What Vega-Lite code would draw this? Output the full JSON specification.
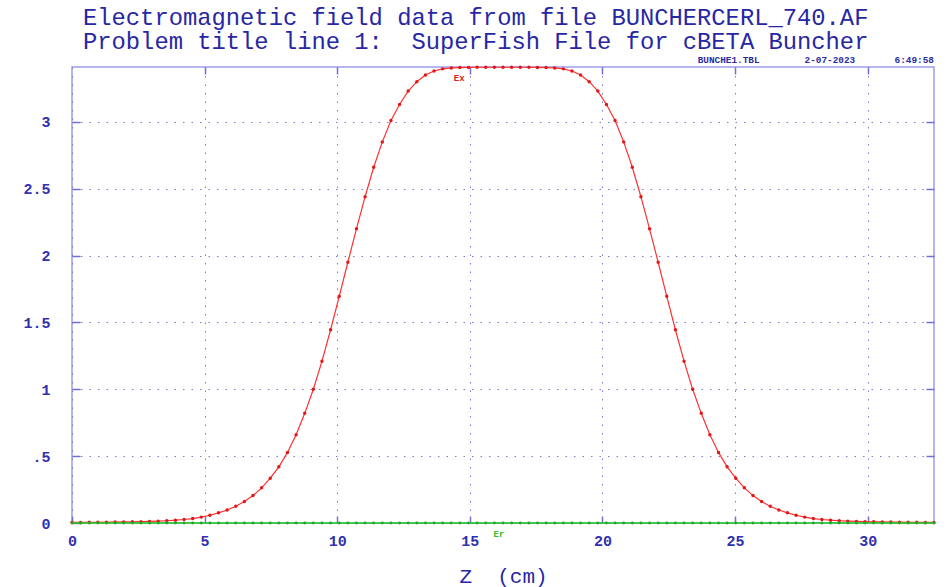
{
  "$schema": "https://vega.github.io/schema/vega-lite/v6.json",
  "width": 862,
  "height": 456,
  "autosize": {"type": "none"},
  "padding": {"left": 72, "top": 67, "right": 13, "bottom": 64},
  "background": "white",
  "title": {
    "text": [
      "Electromagnetic field data from file BUNCHERCERL_740.AF",
      "Problem title line 1: \u00a0SuperFish File for cBETA Buncher"
    ],
    "anchor": "start",
    "frame": "group",
    "dx": 11,
    "font": "Liberation Mono",
    "fontSize": 23.8,
    "fontWeight": "normal",
    "color": "#2727a5",
    "lineHeight": 24,
    "offset": 1
  },
  "config": {
    "view": {"stroke": "#9d9dec", "strokeWidth": 1.5},
    "axis": {
      "domain": false,
      "grid": true,
      "gridColor": "#7b7bd2",
      "gridDash": [1.5, 7],
      "gridWidth": 1,
      "tickColor": "#7070d0",
      "tickWidth": 1.5,
      "labelFont": "Liberation Mono",
      "labelFontWeight": "bold",
      "labelFontSize": 15,
      "labelColor": "#3030b0",
      "titleFont": "Liberation Mono",
      "titleFontWeight": "normal",
      "titleColor": "#2727a5"
    }
  },
  "data": {
    "values": [
      {"z": 0, "Ex": 0.004, "Er": 0},
      {"z": 0.325, "Ex": 0.004, "Er": 0},
      {"z": 0.65, "Ex": 0.005, "Er": 0},
      {"z": 0.975, "Ex": 0.005, "Er": 0},
      {"z": 1.3, "Ex": 0.006, "Er": 0},
      {"z": 1.625, "Ex": 0.007, "Er": 0},
      {"z": 1.95, "Ex": 0.008, "Er": 0},
      {"z": 2.275, "Ex": 0.009, "Er": 0},
      {"z": 2.6, "Ex": 0.010, "Er": 0},
      {"z": 2.925, "Ex": 0.012, "Er": 0},
      {"z": 3.25, "Ex": 0.014, "Er": 0},
      {"z": 3.575, "Ex": 0.017, "Er": 0},
      {"z": 3.9, "Ex": 0.021, "Er": 0},
      {"z": 4.225, "Ex": 0.026, "Er": 0},
      {"z": 4.55, "Ex": 0.033, "Er": 0},
      {"z": 4.875, "Ex": 0.044, "Er": 0},
      {"z": 5.2, "Ex": 0.058, "Er": 0},
      {"z": 5.525, "Ex": 0.076, "Er": 0},
      {"z": 5.85, "Ex": 0.097, "Er": 0},
      {"z": 6.175, "Ex": 0.125, "Er": 0},
      {"z": 6.5, "Ex": 0.160, "Er": 0},
      {"z": 6.825, "Ex": 0.205, "Er": 0},
      {"z": 7.15, "Ex": 0.263, "Er": 0},
      {"z": 7.475, "Ex": 0.335, "Er": 0},
      {"z": 7.8, "Ex": 0.420, "Er": 0},
      {"z": 8.125, "Ex": 0.528, "Er": 0},
      {"z": 8.45, "Ex": 0.660, "Er": 0},
      {"z": 8.775, "Ex": 0.820, "Er": 0},
      {"z": 9.1, "Ex": 1.000, "Er": 0},
      {"z": 9.425, "Ex": 1.210, "Er": 0},
      {"z": 9.75, "Ex": 1.445, "Er": 0},
      {"z": 10.075, "Ex": 1.695, "Er": 0},
      {"z": 10.4, "Ex": 1.950, "Er": 0},
      {"z": 10.725, "Ex": 2.200, "Er": 0},
      {"z": 11.05, "Ex": 2.440, "Er": 0},
      {"z": 11.375, "Ex": 2.660, "Er": 0},
      {"z": 11.7, "Ex": 2.850, "Er": 0},
      {"z": 12.025, "Ex": 3.010, "Er": 0},
      {"z": 12.35, "Ex": 3.130, "Er": 0},
      {"z": 12.675, "Ex": 3.230, "Er": 0},
      {"z": 13, "Ex": 3.300, "Er": 0},
      {"z": 13.325, "Ex": 3.350, "Er": 0},
      {"z": 13.65, "Ex": 3.380, "Er": 0},
      {"z": 13.975, "Ex": 3.396, "Er": 0},
      {"z": 14.3, "Ex": 3.403, "Er": 0},
      {"z": 14.625, "Ex": 3.406, "Er": 0},
      {"z": 14.95, "Ex": 3.407, "Er": 0},
      {"z": 15.275, "Ex": 3.408, "Er": 0},
      {"z": 15.6, "Ex": 3.408, "Er": 0},
      {"z": 15.925, "Ex": 3.408, "Er": 0},
      {"z": 16.25, "Ex": 3.408, "Er": 0},
      {"z": 16.575, "Ex": 3.408, "Er": 0},
      {"z": 16.9, "Ex": 3.408, "Er": 0},
      {"z": 17.225, "Ex": 3.408, "Er": 0},
      {"z": 17.55, "Ex": 3.407, "Er": 0},
      {"z": 17.875, "Ex": 3.406, "Er": 0},
      {"z": 18.2, "Ex": 3.403, "Er": 0},
      {"z": 18.525, "Ex": 3.396, "Er": 0},
      {"z": 18.85, "Ex": 3.380, "Er": 0},
      {"z": 19.175, "Ex": 3.350, "Er": 0},
      {"z": 19.5, "Ex": 3.300, "Er": 0},
      {"z": 19.825, "Ex": 3.230, "Er": 0},
      {"z": 20.15, "Ex": 3.130, "Er": 0},
      {"z": 20.475, "Ex": 3.010, "Er": 0},
      {"z": 20.8, "Ex": 2.850, "Er": 0},
      {"z": 21.125, "Ex": 2.660, "Er": 0},
      {"z": 21.45, "Ex": 2.440, "Er": 0},
      {"z": 21.775, "Ex": 2.200, "Er": 0},
      {"z": 22.1, "Ex": 1.950, "Er": 0},
      {"z": 22.425, "Ex": 1.695, "Er": 0},
      {"z": 22.75, "Ex": 1.445, "Er": 0},
      {"z": 23.075, "Ex": 1.210, "Er": 0},
      {"z": 23.4, "Ex": 1.000, "Er": 0},
      {"z": 23.725, "Ex": 0.820, "Er": 0},
      {"z": 24.05, "Ex": 0.660, "Er": 0},
      {"z": 24.375, "Ex": 0.528, "Er": 0},
      {"z": 24.7, "Ex": 0.420, "Er": 0},
      {"z": 25.025, "Ex": 0.335, "Er": 0},
      {"z": 25.35, "Ex": 0.263, "Er": 0},
      {"z": 25.675, "Ex": 0.205, "Er": 0},
      {"z": 26, "Ex": 0.160, "Er": 0},
      {"z": 26.325, "Ex": 0.125, "Er": 0},
      {"z": 26.65, "Ex": 0.097, "Er": 0},
      {"z": 26.975, "Ex": 0.076, "Er": 0},
      {"z": 27.3, "Ex": 0.058, "Er": 0},
      {"z": 27.625, "Ex": 0.044, "Er": 0},
      {"z": 27.95, "Ex": 0.033, "Er": 0},
      {"z": 28.275, "Ex": 0.026, "Er": 0},
      {"z": 28.6, "Ex": 0.021, "Er": 0},
      {"z": 28.925, "Ex": 0.017, "Er": 0},
      {"z": 29.25, "Ex": 0.014, "Er": 0},
      {"z": 29.575, "Ex": 0.012, "Er": 0},
      {"z": 29.9, "Ex": 0.010, "Er": 0},
      {"z": 30.225, "Ex": 0.009, "Er": 0},
      {"z": 30.55, "Ex": 0.008, "Er": 0},
      {"z": 30.875, "Ex": 0.007, "Er": 0},
      {"z": 31.2, "Ex": 0.006, "Er": 0},
      {"z": 31.525, "Ex": 0.005, "Er": 0},
      {"z": 31.85, "Ex": 0.005, "Er": 0},
      {"z": 32.175, "Ex": 0.004, "Er": 0},
      {"z": 32.5, "Ex": 0.004, "Er": 0}
    ]
  },
  "resolve": {"axis": {"x": "independent", "y": "independent"}},
  "layer": [
    {
      "mark": {
        "type": "line",
        "color": "#ff3030",
        "strokeWidth": 1.2,
        "point": {"filled": true, "color": "#e01818", "size": 12}
      },
      "encoding": {
        "x": {
          "field": "z",
          "type": "quantitative",
          "scale": {"domain": [0, 32.5], "nice": false, "zero": false},
          "axis": {
            "values": [0, 5, 10, 15, 20, 25, 30],
            "orient": "bottom",
            "title": "Z \u00a0(cm)",
            "titleFontSize": 21,
            "titlePadding": 17,
            "labelFlush": false,
            "tickSize": -7,
            "labelPadding": 17
          }
        },
        "y": {
          "field": "Ex",
          "type": "quantitative",
          "scale": {"domain": [0, 3.41], "nice": false},
          "axis": {
            "values": [0, 0.5, 1, 1.5, 2, 2.5, 3],
            "labelExpr": "datum.value == 0.5 ? '.5' : format(datum.value, '~g')",
            "title": null,
            "tickSize": -8,
            "labelPadding": 30
          }
        }
      }
    },
    {
      "mark": {
        "type": "line",
        "color": "#22cc22",
        "strokeWidth": 1.5,
        "point": {"filled": true, "color": "#22aa22", "size": 8}
      },
      "encoding": {
        "x": {
          "field": "z",
          "type": "quantitative",
          "axis": {
            "orient": "top",
            "values": [5, 10, 15, 20, 25, 30],
            "labels": false,
            "grid": false,
            "title": null,
            "tickSize": -7
          }
        },
        "y": {
          "field": "Er",
          "type": "quantitative",
          "axis": {
            "orient": "right",
            "values": [0.5, 1, 1.5, 2, 2.5, 3],
            "labels": false,
            "grid": false,
            "title": null,
            "tickSize": -8
          }
        }
      }
    },
    {
      "data": {"values": [{"z": 14.6, "v": 3.325}]},
      "mark": {"type": "text", "text": "Ex", "font": "Liberation Mono", "fontSize": 9, "fontWeight": "bold", "color": "#e02020", "align": "center", "baseline": "middle"},
      "encoding": {
        "x": {"field": "z", "type": "quantitative", "axis": null},
        "y": {"field": "v", "type": "quantitative", "axis": null}
      }
    },
    {
      "data": {"values": [{"z": 16.1, "v": -0.08}]},
      "mark": {"type": "text", "text": "Er", "font": "Liberation Mono", "fontSize": 9, "fontWeight": "bold", "color": "#30c030", "align": "center", "baseline": "middle"},
      "encoding": {
        "x": {"field": "z", "type": "quantitative", "axis": null},
        "y": {"field": "v", "type": "quantitative", "axis": null}
      }
    },
    {
      "data": {"values": [{"z": 32.5, "v": 3.41}]},
      "mark": {"type": "text", "text": "BUNCHE1.TBL\u00a0\u00a0\u00a0\u00a0\u00a0\u00a0\u00a0\u00a02-07-2023\u00a0\u00a0\u00a0\u00a0\u00a0\u00a0\u00a06:49:58", "font": "Liberation Mono", "fontSize": 9.4, "fontWeight": "bold", "color": "#2d2d9d", "align": "right", "baseline": "bottom", "dy": -2},
      "encoding": {
        "x": {"field": "z", "type": "quantitative", "axis": null},
        "y": {"field": "v", "type": "quantitative", "axis": null}
      }
    }
  ]
}
